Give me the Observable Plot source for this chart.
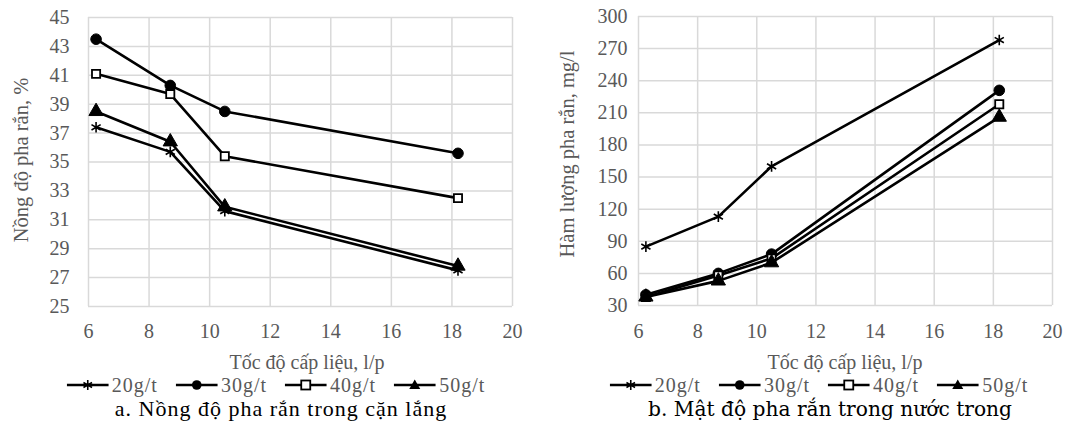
<!DOCTYPE html>
<html>
<head>
<meta charset="utf-8">
<script src="https://cdn.jsdelivr.net/npm/d3@7"></script>
<script src="https://cdn.jsdelivr.net/npm/@observablehq/plot@0.6"></script>
<style>
  html, body { margin: 0; padding: 0; background: #fff; }
  #root { position: relative; width: 1085px; height: 433px; overflow: hidden; font-family: "Liberation Serif", serif; }
  .panel { position: absolute; top: 0; width: 540px; height: 433px; }
  .panel svg.plot { position: absolute; left: 0; top: 0; }
  .abs { position: absolute; white-space: nowrap; line-height: 1; }
  .ylab { color: #595959; font-size: 20.5px; transform: translate(-50%, -50%) rotate(-90deg); }
  .xlab { color: #595959; font-size: 20px; transform: translate(-50%, -50%); }
  .legend { color: #595959; font-size: 20px; letter-spacing: 1px; transform: translate(-50%, -50%); display: flex; align-items: center; }
  .legend .item { display: flex; align-items: center; margin: 0 9px; }
  .legend svg { display: block; margin-right: 3px; }
  .caption { color: #000; transform: translate(-50%, -50%); }
  .capA { font-family: "Liberation Serif", serif; font-size: 22px; letter-spacing: 1px; }
  .capB { font-family: "DejaVu Serif", serif; font-size: 20.2px; }
</style>
</head>
<body>
<div id="root"></div>
<script>
// ---- data ----
const seriesNames = ["20g/t", "30g/t", "40g/t", "50g/t"];
const feedRate = [6.25, 8.7, 10.5, 18.2];           // Tốc độ cấp liệu, l/p

// a. Nồng độ pha rắn trong cặn lắng (%)
const conc20 = [37.4, 35.7, 31.6, 27.5];
const conc30 = [43.5, 40.3, 38.5, 35.6];
const conc40 = [41.1, 39.7, 35.4, 32.5];
const conc50 = [38.5, 36.4, 31.9, 27.8];

// b. Mật độ pha rắn trong nước trong (mg/l)
const dens20 = [85, 113, 160, 278];
const dens30 = [40, 60, 78, 231];
const dens40 = [38, 58, 74, 218];
const dens50 = [38, 53, 70, 206];

const xTicks = [6, 8, 10, 12, 14, 16, 18, 20];
const yTicksA = [25, 27, 29, 31, 33, 35, 37, 39, 41, 43, 45];
const yTicksB = [30, 60, 90, 120, 150, 180, 210, 240, 270, 300];

const markerStyle = {
  "20g/t": {symbol: "asterisk", fill: "none", stroke: "black", r: 5, strokeWidth: 1.6},
  "30g/t": {symbol: "circle", fill: "black", stroke: "black", r: 5.3, strokeWidth: 1},
  "40g/t": {symbol: "square", fill: "white", stroke: "black", r: 4.6, strokeWidth: 1.8},
  "50g/t": {symbol: "triangle", fill: "black", stroke: "black", r: 5.3, strokeWidth: 1}
};

function toRows(arrays) {
  const rows = [];
  seriesNames.forEach((s, i) => arrays[i].forEach((v, j) => rows.push({series: s, x: feedRate[j], y: v})));
  return rows;
}

function makePlot(rows, cfg) {
  const marks = [
    Plot.gridX(xTicks, {stroke: "#d9d9d9", strokeOpacity: 1, strokeWidth: 1.5}),
    Plot.gridY(cfg.yTicks, {stroke: "#d9d9d9", strokeOpacity: 1, strokeWidth: 1.5}),
    Plot.axisX(xTicks, {tickSize: 0, tickPadding: cfg.xPad, fontSize: 20, fill: "#595959", label: null}),
    Plot.axisY(cfg.yTicks, {tickSize: 0, tickPadding: cfg.yPad, fontSize: 20, fill: "#595959", label: null}),
    Plot.line(rows, {x: "x", y: "y", z: "series", stroke: "black", strokeWidth: 2.6})
  ];
  seriesNames.forEach(s => {
    const m = markerStyle[s];
    marks.push(Plot.dot(rows.filter(d => d.series === s), {
      x: "x", y: "y", symbol: () => m.symbol, r: m.r, fill: m.fill, stroke: m.stroke, strokeWidth: m.strokeWidth
    }));
  });
  const svg = Plot.plot({
    width: 540, height: 372,
    marginLeft: cfg.ml, marginRight: cfg.mr, marginTop: cfg.mt, marginBottom: cfg.mb,
    x: {domain: [6, 20]},
    y: {domain: cfg.yDomain},
    symbol: {type: "identity"},
    style: {fontFamily: "Liberation Serif, serif", fontSize: "20px", background: "white", color: "#595959"},
    marks
  });
  svg.classList.add("plot");
  return svg;
}

function legendSymbol(s) {
  const m = markerStyle[s];
  let shape = "";
  const cx = 21, cy = 8;
  if (m.symbol === "circle") shape = `<circle cx="${cx}" cy="${cy}" r="4.8" fill="black"/>`;
  else if (m.symbol === "square") shape = `<rect x="${cx-4.5}" y="${cy-4.5}" width="9" height="9" fill="white" stroke="black" stroke-width="1.8"/>`;
  else if (m.symbol === "triangle") shape = `<path d="M${cx},${cy-5.5}L${cx+5.5},${cy+4}L${cx-5.5},${cy+4}Z" fill="black"/>`;
  else shape = `<path d="M${cx},${cy-5}V${cy+5}M${cx-4.3},${cy-2.5}L${cx+4.3},${cy+2.5}M${cx-4.3},${cy+2.5}L${cx+4.3},${cy-2.5}" stroke="black" stroke-width="1.6"/>`;
  return `<svg width="42" height="16"><line x1="0" y1="${cy}" x2="42" y2="${cy}" stroke="black" stroke-width="2.6"/>${shape}</svg>`;
}

function addPanel(left, rows, cfg) {
  const root = document.getElementById("root");
  const panel = document.createElement("div");
  panel.className = "panel";
  panel.style.left = left + "px";
  panel.appendChild(makePlot(rows, cfg));

  const ylab = document.createElement("div");
  ylab.className = "abs ylab";
  ylab.style.left = cfg.ylabX + "px"; ylab.style.top = cfg.ylabY + "px";
  ylab.textContent = cfg.yLabel;
  panel.appendChild(ylab);

  const xlab = document.createElement("div");
  xlab.className = "abs xlab";
  xlab.style.left = cfg.xlabX + "px"; xlab.style.top = "362px";
  xlab.textContent = "Tốc độ cấp liệu, l/p";
  panel.appendChild(xlab);

  const leg = document.createElement("div");
  leg.className = "abs legend";
  leg.style.left = cfg.legX + "px"; leg.style.top = "385px";
  leg.innerHTML = seriesNames.map(s => `<span class="item">${legendSymbol(s)}<span>${s}</span></span>`).join("");
  panel.appendChild(leg);

  const cap = document.createElement("div");
  cap.className = "abs caption " + cfg.capClass;
  cap.style.left = cfg.capX + "px"; cap.style.top = "409px";
  cap.textContent = cfg.caption;
  panel.appendChild(cap);

  root.appendChild(panel);
}

addPanel(0, toRows([conc20, conc30, conc40, conc50]), {
  ml: 88, mr: 28, mt: 17, mb: 66, yDomain: [25, 45], yTicks: yTicksA, yPad: 19, xPad: 17,
  yLabel: "Nồng độ pha rắn, %", ylabX: 21, ylabY: 160,
  xlabX: 307, legX: 276, capX: 281, capClass: "capA",
  caption: "a. Nồng độ pha rắn trong cặn lắng"
});

addPanel(545, toRows([dens20, dens30, dens40, dens50]), {
  ml: 93, mr: 33, mt: 16, mb: 67, yDomain: [30, 300], yTicks: yTicksB, yPad: 11, xPad: 18,
  yLabel: "Hàm lượng pha rắn, mg/l", ylabX: 22, ylabY: 154,
  xlabX: 300, legX: 274, capX: 285, capClass: "capB",
  caption: "b. Mật độ pha rắn trong nước trong"
});
</script>
</body>
</html>
